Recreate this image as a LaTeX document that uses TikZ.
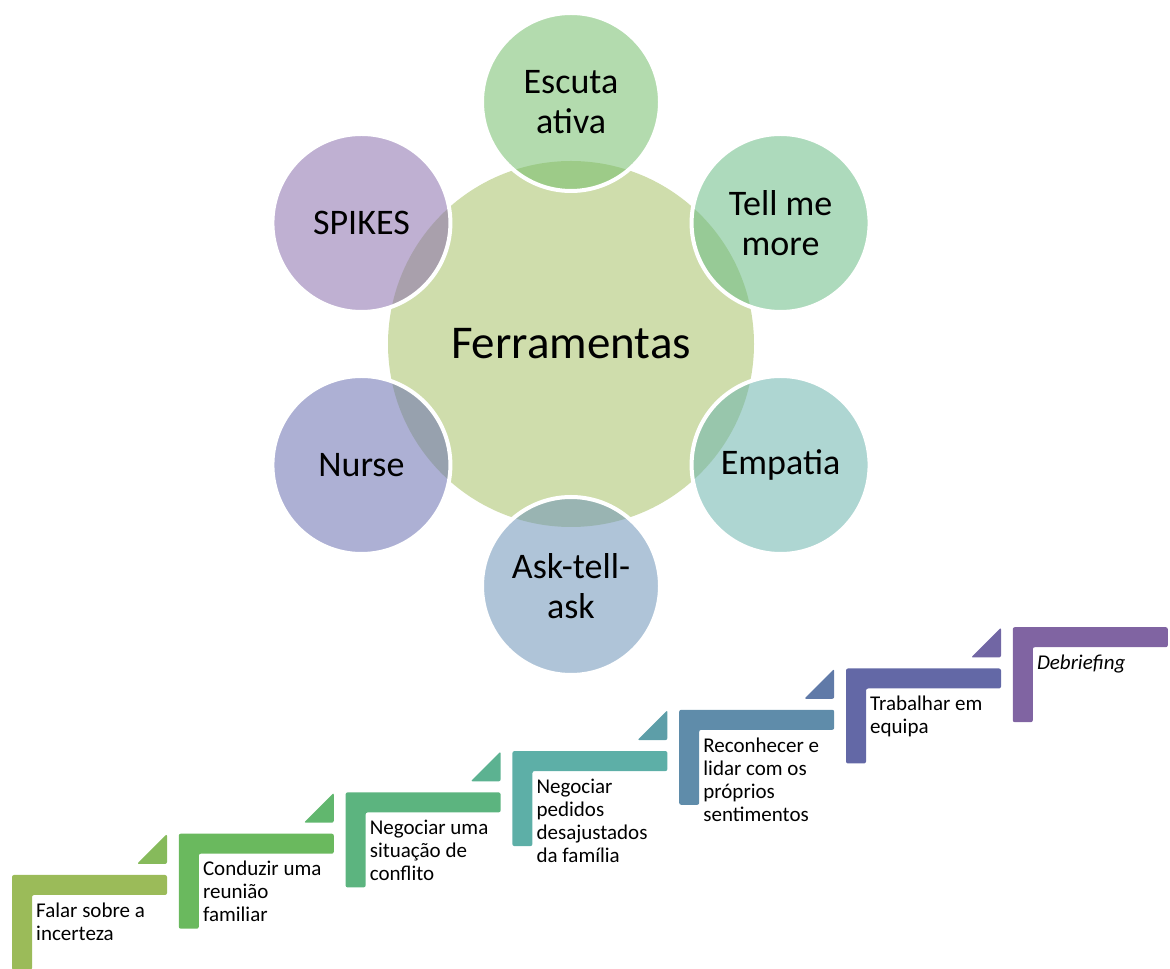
\documentclass[tikz,border=0pt]{standalone}
\usepackage{fontspec}
\setmainfont{Carlito}
\usepackage{tikz}
\usetikzlibrary{positioning, calc}
\usepackage{xcolor}
\definecolor{hubfill}{RGB}{207,221,172}
\definecolor{petA}{RGB}{117,190,108}
\definecolor{petB}{RGB}{106,188,133}
\definecolor{petC}{RGB}{108,180,173}
\definecolor{petD}{RGB}{110,148,184}
\definecolor{petE}{RGB}{106,112,177}
\definecolor{petF}{RGB}{138,111,173}
\definecolor{stepA}{RGB}{155,187,89}
\definecolor{stepB}{RGB}{106,185,94}
\definecolor{stepC}{RGB}{92,180,127}
\definecolor{stepD}{RGB}{93,175,167}
\definecolor{stepE}{RGB}{95,140,170}
\definecolor{stepF}{RGB}{99,104,166}
\definecolor{stepG}{RGB}{128,100,162}
\definecolor{triA}{RGB}{134,186,91}
\definecolor{triB}{RGB}{97,183,110}
\definecolor{triC}{RGB}{92,178,145}
\definecolor{triD}{RGB}{93,158,168}
\definecolor{triE}{RGB}{96,122,168}
\definecolor{triF}{RGB}{113,102,164}

\begin{document}
\begin{tikzpicture}[x=1pt, y=1pt,
   hub/.style = {circle, fill=hubfill, minimum size=366pt, inner sep=0pt,
     font=\fontsize{47}{52}\selectfont},
   petal/.style = {circle, draw=white, line width=4pt, minimum size=178pt,
     inner sep=0pt, fill opacity=0.55, text opacity=1, align=center,
     font=\fontsize{36}{40}\selectfont},
   steptext/.style = {anchor=north west, inner sep=0pt, align=left,
     font=\fontsize{21}{23}\selectfont}]
   \useasboundingbox (0,0) rectangle (1170,969);
   \node[hub] (hub) at (571,625) {Ferramentas};
   \foreach \ang/\nm/\col/\txt in {90/escuta/petA/{Escuta\\ativa},
       30/tell/petB/{Tell me\\more}, -30/empatia/petC/Empatia,
       -90/ask/petD/{Ask-tell-\\ask}, -150/nurse/petE/Nurse,
       150/spikes/petF/SPIKES}
     \node[petal, fill=\col] (\nm) at ($(hub)+(\ang:242)$) {\txt};
   \foreach \i/\sc/\tc/\txt in {0/stepA/triA/{Falar sobre a\\incerteza},
       1/stepB/triB/{Conduzir uma\\reunião\\familiar},
       2/stepC/triC/{Negociar uma\\situação de\\conflito},
       3/stepD/triD/{Negociar\\pedidos\\desajustados\\da família},
       4/stepE/triE/{Reconhecer e\\lidar com os\\próprios\\sentimentos},
       5/stepF/triF/{Trabalhar em\\equipa},
       6/stepG/stepG/{\itshape Debriefing}} {
     \begin{scope}[shift={({12+166.8*\i},{94+41.3*\i})}]
       \fill[\sc, rounded corners=2pt] (0,0) -- (155,0) -- (155,-20)
         -- (20,-20) -- (20,-95) -- (0,-95) -- cycle;
       \ifnum\i<6
         \fill[\tc, rounded corners=2pt] (125,11) -- (155,11) -- (155,41) -- cycle;
       \fi
       \node[steptext] (step\i) at (24,-26) {\strut\txt};
     \end{scope}
   }
   % \draw[red] (hub) circle (183);
\end{tikzpicture}
\end{document}
